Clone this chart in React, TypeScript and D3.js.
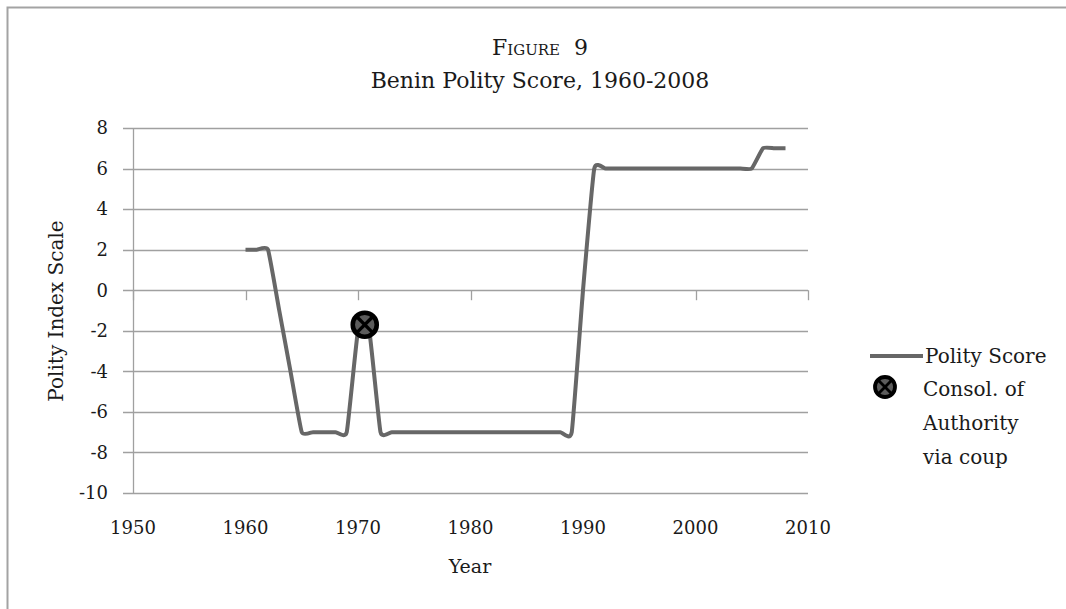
import React from 'react';
import * as d3 from 'd3';

// Benin polity score, one value per year 1960-2008
const years = d3.range(1960, 2009);
const polity = [
    2, 2, 2, -1, -4, -7, -7, -7, -7, -7,
    -2, -2, -7, -7, -7, -7, -7, -7, -7, -7,
    -7, -7, -7, -7, -7, -7, -7, -7, -7, -7,
    0, 6, 6, 6, 6, 6, 6, 6, 6, 6,
    6, 6, 6, 6, 6, 6, 7, 7, 7,
];
const coupEvents = [{ year: 1970.6, value: -1.7 }];

const xTicks = [1950, 1960, 1970, 1980, 1990, 2000, 2010];
const yTicks = [8, 6, 4, 2, 0, -2, -4, -6, -8, -10];
const legendLabels = ['Polity Score', ['Consol. of', 'Authority', 'via coup']];

const W = 1066;
const H = 609;
const margin = { top: 128, right: 258, bottom: 116, left: 133 };
const FONT = '"DejaVu Serif", serif';
const INK = '#1a1a1a';

const CoupMarker = ({ cx, cy, r }) => {
    const d = r * 0.62;
    return (
        <g transform={`translate(${cx},${cy})`}>
            <circle r={r} fill="#5c5c5c" stroke="#000" strokeWidth={r * 0.38} />
            <line x1={-d} y1={-d} x2={d} y2={d} stroke="#000" strokeWidth={r * 0.28} />
            <line x1={-d} y1={d} x2={d} y2={-d} stroke="#000" strokeWidth={r * 0.28} />
        </g>
    );
};

const App = () => {
    const x = d3.scaleLinear().domain([1950, 2010]).range([margin.left, W - margin.right]);
    const y = d3.scaleLinear().domain([-10, 8]).range([H - margin.bottom, margin.top]);

    const rows = years.map((yr, i) => ({ year: yr, value: polity[i] }));
    // excel-style smoothing, some tension keeps the overshoot small
    const line = d3.line()
        .x(d => x(d.year))
        .y(d => y(d.value))
        .curve(d3.curveCardinal.tension(0.6));

    const x0 = x.range()[0];
    const x1 = x.range()[1];

    return (
        <svg width={W} height={H} style={{ position: 'absolute', left: 0, top: 0, background: '#fff' }}>
            {/* outer frame (only top and left visible) */}
            <path d={`M7.5,${H} V7.5 H${W}`} fill="none" stroke="#a3a3a3" strokeWidth={2} />

            {/* title */}
            <text x={540} y={55} textAnchor="middle" fontFamily={FONT} fontSize={22} fill={INK}
                style={{ fontVariant: 'small-caps' }}>Figure&#160; 9</text>
            <text x={540} y={88} textAnchor="middle" fontFamily={FONT} fontSize={22} fill={INK}>
                Benin Polity Score, 1960-2008
            </text>

            {/* gridlines */}
            {yTicks.map(t => (
                <line key={t} x1={x0 - 10} x2={x1} y1={Math.round(y(t)) + 0.5} y2={Math.round(y(t)) + 0.5}
                    stroke="#a0a0a0" strokeWidth={1.3} />
            ))}
            {/* y axis */}
            <line x1={x0 + 0.5} x2={x0 + 0.5} y1={y(8)} y2={y(-10)} stroke="#a0a0a0" strokeWidth={1.3} />
            {/* x axis ticks at zero line */}
            {xTicks.map(t => (
                <line key={t} x1={Math.round(x(t)) + 0.5} x2={Math.round(x(t)) + 0.5}
                    y1={y(0)} y2={y(0) + 10} stroke="#a0a0a0" strokeWidth={1.3} />
            ))}

            {/* tick labels */}
            {yTicks.map(t => (
                <text key={t} x={x0 - 25} y={y(t)} dy="0.35em" textAnchor="end"
                    fontFamily={FONT} fontSize={18} fill={INK}>{t}</text>
            ))}
            {xTicks.map(t => (
                <text key={t} x={x(t)} y={534} textAnchor="middle"
                    fontFamily={FONT} fontSize={18} fill={INK}>{t}</text>
            ))}

            {/* axis titles */}
            <text x={470} y={573} textAnchor="middle" fontFamily={FONT} fontSize={19} fill={INK}>Year</text>
            <text transform={`translate(63,${311}) rotate(-90)`} textAnchor="middle"
                fontFamily={FONT} fontSize={20} fill={INK}>Polity Index Scale</text>

            {/* series */}
            <path d={line(rows)} fill="none" stroke="#676767" strokeWidth={4} strokeLinejoin="round" />
            {coupEvents.map((c, i) => (
                <CoupMarker key={i} cx={x(c.year)} cy={y(c.value)} r={12} />
            ))}

            {/* legend */}
            <line x1={870} x2={923} y1={356} y2={356} stroke="#676767" strokeWidth={4} />
            <text x={925} y={356} dy="0.35em" fontFamily={FONT} fontSize={20} fill={INK}>{legendLabels[0]}</text>
            <CoupMarker cx={885} cy={387} r={10} />
            {legendLabels[1].map((s, i) => (
                <text key={s} x={923} y={389 + i * 34} dy="0.35em" fontFamily={FONT} fontSize={20} fill={INK}>{s}</text>
            ))}
        </svg>
    );
};

export default App;
